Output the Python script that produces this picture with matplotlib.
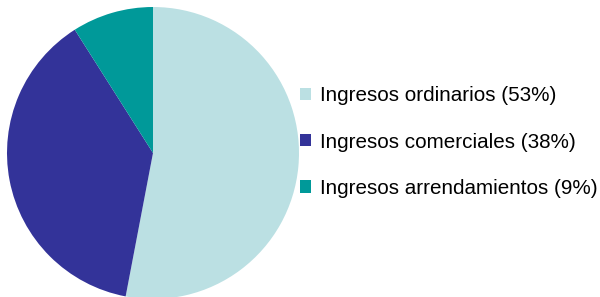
import matplotlib
matplotlib.use("Agg")
import matplotlib.pyplot as plt

categories = ["Ingresos ordinarios", "Ingresos comerciales", "Ingresos arrendamientos"]
shares = [53, 38, 9]
colors = ["#BBE0E3", "#333399", "#009999"]

plt.rcParams['font.family'] = ['Liberation Sans', 'DejaVu Sans']

fig = plt.figure(figsize=(6.0, 2.97), dpi=100)
W, H = 600, 297
cx, cy, r = 153, 153, 146
ax = fig.add_axes([(cx - r) / W, (H - cy - r) / H, 2 * r / W, 2 * r / H])
wedges, _ = ax.pie(shares, colors=colors, startangle=90, counterclock=False,
                   radius=1.0, wedgeprops=dict(linewidth=0))
ax.set_xlim(-1, 1)
ax.set_ylim(-1, 1)
ax.set_aspect('auto')
ax.axis('off')

labels = [f"{c} ({s}%)" for c, s in zip(categories, shares)]
fs = 14.9
leg = fig.legend(wedges, labels, loc='center left', bbox_to_anchor=(300 / W, (H - 142) / H),
                 frameon=False, fontsize=fs, handlelength=0.55, handleheight=0.55,
                 handletextpad=0.43, labelspacing=1.32, borderpad=0, borderaxespad=0)
for t in leg.get_texts():
    t.set_color('#000000')

fig.savefig("out.png", dpi=100)
